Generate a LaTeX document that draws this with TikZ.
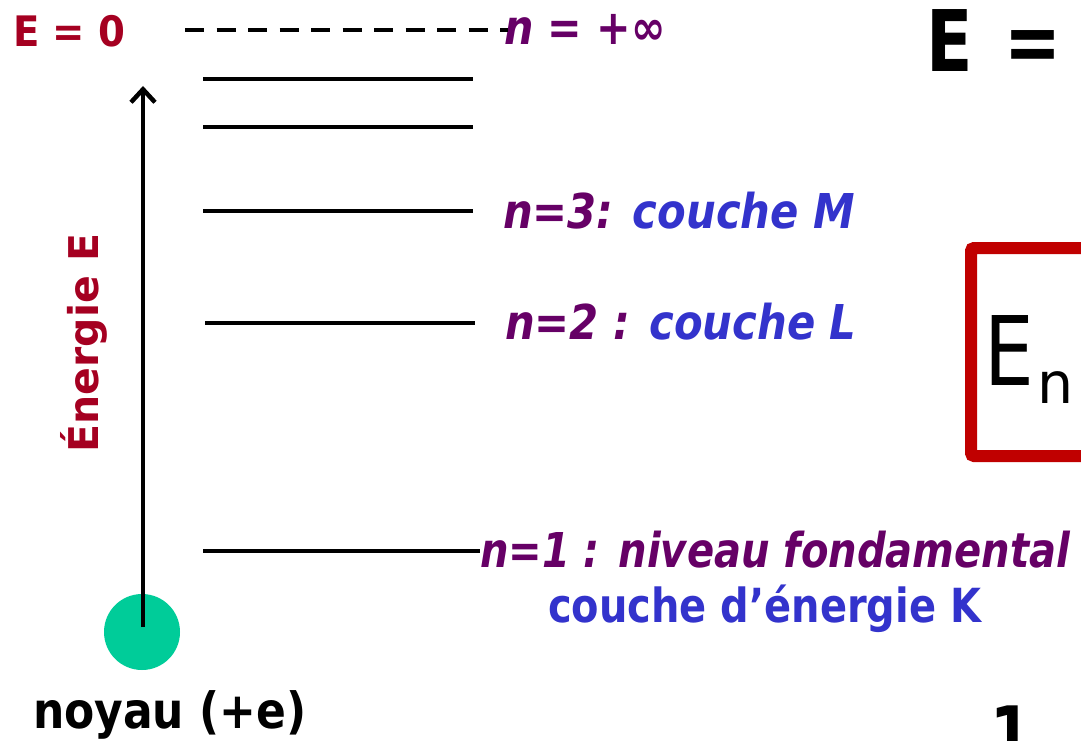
\documentclass[tikz,border=0pt]{standalone}
\usepackage{fontspec}
\setmainfont{DejaVu Sans}
\usetikzlibrary{arrows.meta}
\definecolor{dred}{HTML}{A50021}
\definecolor{purp}{HTML}{660066}
\definecolor{blu}{HTML}{3333CC}
\definecolor{nucl}{HTML}{00CC99}
\definecolor{boxred}{HTML}{C00000}
\newcommand\fs[1]{\fontsize{#1}{#1}\selectfont}
\newcommand\sx[2]{\scalebox{#1}[1]{#2}}
\begin{document}
\begin{tikzpicture}[x=1pt,y=-1pt,
  txt/.style={inner sep=0pt,outer sep=0pt,anchor=base west},
  lvl/.style={line width=3.3pt},
  pur/.style={txt,text=purp,font=\fs{48}\bfseries\itshape}]
\useasboundingbox (0,0) rectangle (1081,741);
\begin{scope}
\clip (0,0) rectangle (1081,741);
% top labels
\node[txt,text=dred,font=\fs{42}\bfseries] (e0) at (13,47) {\sx{0.92}{E = 0}};
\node[pur] (ninf) at (504,45) {\sx{0.86}{n = +∞}};
\coordinate (d0) at (185,30);
\draw[line width=4pt,dash pattern=on 19pt off 12.5pt] (d0) -- ([xshift=4pt]ninf.west |- d0);
% big E =
\node[txt,font=\fs{85}\bfseries] (bigE) at (926,72) {\sx{0.8}{E\hspace{0.12em} =}};
% levels
\coordinate (l5a) at (203,79);  \coordinate (l5b) at (473,79);
\coordinate (l4a) at (203,127); \coordinate (l4b) at (473,127);
\coordinate (l3a) at (203,211); \coordinate (l3b) at (473,211);
\coordinate (l2a) at (205,323); \coordinate (l2b) at (475,323);
\coordinate (l1a) at (203,551);
\draw[lvl] (l5a) -- (l5b);
\draw[lvl] (l4a) -- (l4b);
\draw[lvl] (l3a) -- (l3b);
\draw[lvl] (l2a) -- (l2b);
\node[pur] (n3) at (503,228) {\sx{0.87}{n=3: \textcolor{blu}{couche M}}};
\node[pur] (n2) at (505,339) {\sx{0.87}{n=2 : \textcolor{blu}{couche L}}};
\node[pur] (n1) at (480,567) {\sx{0.835}{n=1 : niveau fondamental}};
\draw[lvl] (l1a) -- (n1.west |- l1a);
\node[txt,text=blu,font=\fs{47}\bfseries] (k) at (548,622) {\sx{0.85}{couche d'énergie K}};
% nucleus and arrow
\node[circle,fill=nucl,minimum size=76pt,inner sep=0pt] (nuc) at (142,632) {};
\coordinate (atip) at (143,86);
\draw[line width=4pt,-{Straight Barb[length=13pt,width=24pt,line width=4.5pt]}] (143,627) -- (atip);
\node[txt,anchor=center,rotate=90,text=dred,font=\fs{41}\bfseries] (en) at (84,343) {Énergie E};
\node[txt,font=\fs{50}\bfseries] (noy) at (33,728) {\sx{0.88}{noyau (+e)}};
% red box
\draw[boxred,line width=12pt,rounded corners=3pt] (1100,248) -- (971,248) -- (971,456) -- (1100,456);
\node[txt,font=\fs{96}] (En) at (984,385) {\sx{0.82}{E}};
\node[txt,font=\fs{57}] (Enn) at (1037,403) {n};
% bottom partial
\node[txt,font=\fs{75}\bfseries] (one) at (990,760) {\sx{0.8}{1}};
\end{scope}
\end{tikzpicture}
\end{document}
